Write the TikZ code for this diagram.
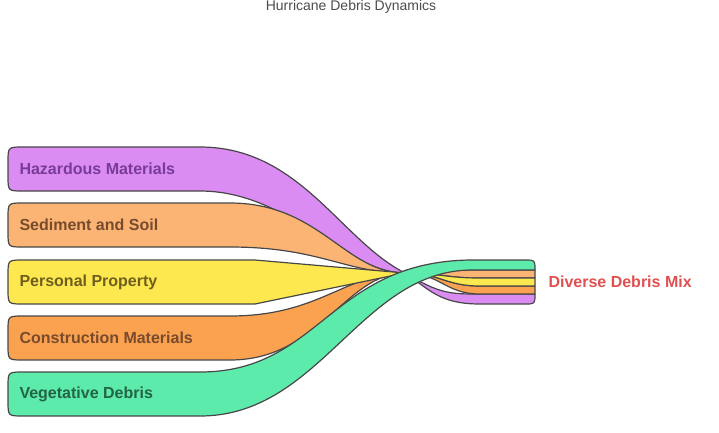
\documentclass[tikz,border=0pt]{standalone}
\usepackage{fontspec}
\setmainfont{Liberation Sans}
\begin{document}
\begin{tikzpicture}[x=1pt,y=-1pt,
  band/.style={draw=black!72,line width=1.2pt,line join=round},
  lab/.style={anchor=west,font=\bfseries\fontsize{16}{18}\selectfont}]
\useasboundingbox (0,0) rectangle (719,432);
\definecolor{cpur}{HTML}{DB8CF3}\definecolor{cpeach}{HTML}{FCB475}
\definecolor{cyel}{HTML}{FEE84F}\definecolor{cora}{HTML}{FBA250}
\definecolor{cgrn}{HTML}{5DEBAB}
% hazardous
\path[band,fill=cpur] (23,147) -- (200,147) .. controls (300,147) and (340,240) .. (405,273)
  .. controls (440,294) and (450,294) .. (480,294) -- (535,294) -- (535,294)
  .. controls (535,304) .. (525,304) -- (480,304) .. controls (440,304) and (430,290) .. (405,273)
  .. controls (345,273) and (290,191) .. (200,191) -- (23,191) .. controls (8,191) .. (8,176) -- (8,162) .. controls (8,147) .. (23,147) -- cycle;
% sediment
\path[band,fill=cpeach] (23,203) -- (230,203) .. controls (320,203) and (345,273) .. (405,273)
  .. controls (440,273) and (445,270) .. (480,270) -- (535,270) -- (535,278) -- (480,278)
  .. controls (445,278) and (440,273) .. (405,273) .. controls (345,273) and (320,247) .. (230,247) -- (23,247) .. controls (8,247) .. (8,232) -- (8,218) .. controls (8,203) .. (23,203) -- cycle;
% construction
\path[band,fill=cora] (23,316) -- (230,316) .. controls (320,316) and (345,273) .. (405,273)
  .. controls (440,273) and (445,286) .. (480,286) -- (535,286) -- (535,294) -- (480,294)
  .. controls (445,294) and (440,273) .. (405,273) .. controls (345,273) and (320,360) .. (230,360) -- (23,360) .. controls (8,360) .. (8,345) -- (8,331) .. controls (8,316) .. (23,316) -- cycle;
% personal
\path[band,fill=cyel] (23,260) -- (255,260) -- (405,273)
  .. controls (440,273) and (445,278) .. (480,278) -- (535,278) -- (535,286) -- (480,286)
  .. controls (445,286) and (440,273) .. (405,273) -- (255,304) -- (23,304) .. controls (8,304) .. (8,289) -- (8,275) .. controls (8,260) .. (23,260) -- cycle;
% vegetative
\path[band,fill=cgrn] (23,372) -- (200,372) .. controls (320,372) and (330,262) .. (470,260)
  -- (525,260) .. controls (535,260) .. (535,270) -- (470,270)
  .. controls (360,272) and (320,416) .. (200,416) -- (23,416) .. controls (8,416) .. (8,401) -- (8,387) .. controls (8,372) .. (23,372) -- cycle;
\node[lab,text={rgb,255:red,120;green,60;blue,150}] (hz) at (16,169) {Hazardous Materials};
\node[lab,text={rgb,255:red,120;green,75;blue,45}] (sd) at (16,225) {Sediment and Soil};
\node[lab,text={rgb,255:red,110;green,95;blue,30}] (pp) at (16,282) {Personal Property};
\node[lab,text={rgb,255:red,120;green,75;blue,45}] (cm) at (16,338) {Construction Materials};
\node[lab,text={rgb,255:red,35;green,100;blue,70}] (vd) at (16,394) {Vegetative Debris};
\node[lab,text={rgb,255:red,224;green,80;blue,80}] (dm) at (545,282) {Diverse Debris Mix};
\node[font=\fontsize{14}{16}\selectfont,text=black!70] (t) at (351,7) {Hurricane Debris Dynamics};
\end{tikzpicture}
\end{document}
